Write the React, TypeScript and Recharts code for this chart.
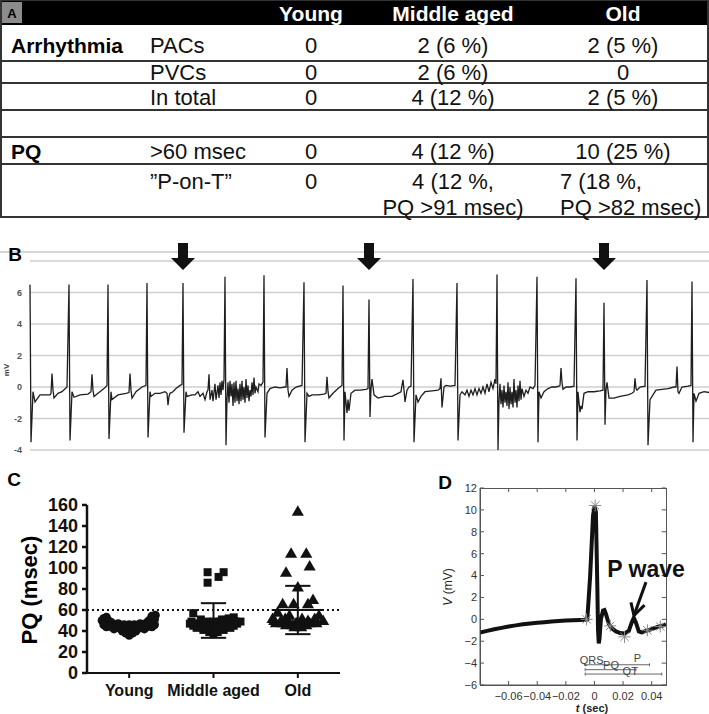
import React from "react";
import {
  LineChart,
  Line,
  ScatterChart,
  Scatter,
  ComposedChart,
  XAxis,
  YAxis,
  ZAxis,
  CartesianGrid,
  ReferenceLine,
  ReferenceDot,
} from "recharts";

const FONT = "'Liberation Sans', Arial, Helvetica, sans-serif";

// ---------- A: table ----------
const groupNames = ["Young", "Middle aged", "Old"];
const arrhythmiaLabels = ["PACs", "PVCs", "In total"];
const arrhythmiaYoung = ["0", "0", "0"];
const arrhythmiaMiddle = ["2 (6 %)", "2 (6 %)", "4 (12 %)"];
const arrhythmiaOld = ["2 (5 %)", "0", "2 (5 %)"];
const pqLabels = [">60 msec", "\u201DP-on-T\u201D"];
const pqYoung = ["0", "0"];
const pqMiddle = [["4 (12 %)"], ["4 (12 %,", "PQ >91 msec)"]];
const pqOld = [["10 (25 %)"], ["7 (18 %,", "PQ >82 msec)"]];

// ---------- B: ECG strip (x in samples) ----------
const ecgBeatSample = [0, 39, 78, 117, 153, 195, 234, 274, 313, 339, 383, 427, 467, 507, 546, 574, 617, 662];
const ecgRPeak = [6.5, 6.5, 6.5, 6.6, 6.6, 7.0, 7.1, 6.65, 6.45, 5.55, 6.85, 6.6, 7.15, 7.0, 6.9, 5.35, 6.8, 6.7];
const ecgSTrough = [-3.5, -3.4, -3.3, -3.2, -2.9, -3.7, -3.2, -3.5, -3.4, -1.9, -3.5, -3.4, -4.0, -3.5, -3.4, -2.4, -3.7, -3.5];
// trace between one beat and the next: [sample, mV]
const ecgBetween: number[][][] = [
  [[3, -0.3], [5, -0.95], [10, -0.5], [20, -0.5], [21, -0.4], [22, 0.85], [23, -0.2], [24, -0.7], [28, -0.4], [32, -0.3], [37, 0.0]],
  [[42, -0.3], [44, -0.65], [50, -0.5], [58, -0.45], [61, -0.3], [62, 0.8], [63, -0.2], [64, -0.6], [68, -0.4], [74, -0.1], [77, 0.1]],
  [[81, -0.3], [82, -0.8], [88, -0.5], [96, -0.4], [99, -0.35], [100, 0.85], [101, -0.2], [102, -0.7], [106, -0.3], [112, 0.0], [116, 0.1]],
  [[120, -0.3], [121, -0.6], [125, -0.4], [130, -0.4], [135, -0.3], [137, -0.4], [138, -1.15], [139, -0.6], [140, -0.4], [143, -0.3], [146, -0.1], [150, 0.1], [152, 0.15]],
  [[156, -0.3], [157, -0.6], [162, -0.5], [165, -0.5], [168, -0.3], [170, -0.6], [173, -0.4], [175, -0.8], [177, -0.3], [178, -0.2], [179, 0.8], [180, -0.8], [182, -0.2], [183, -0.9], [185, 0.2], [186, -0.8], [188, 0.1], [189, -0.7], [190, 0.3], [191, -0.5], [192, 0.4], [193, -0.2], [194, 0.5]],
  [[197, -0.8], [198, 0.3], [199, -1.0], [200, 0.4], [201, -0.6], [202, 0.2], [203, -1.2], [204, 0.3], [205, -1.0], [206, 0.4], [207, -0.9], [208, -0.1], [209, -1.1], [210, 0.2], [211, -0.9], [212, 0.4], [213, -0.8], [214, 0.0], [215, -1.0], [216, 0.5], [217, -0.7], [218, 0.1], [219, -0.9], [220, -0.2], [221, -0.6], [222, 0.3], [223, -0.5], [224, 0.6], [225, -0.4], [226, 0.0], [228, -0.3], [229, 0.2], [231, 0.1], [233, 0.3]],
  [[237, -0.4], [240, -0.1], [245, 0.0], [250, -0.05], [255, 0.0], [256, 0.0], [257, 1.2], [258, -0.2], [259, -0.6], [262, -0.2], [266, 0.0], [272, 0.1]],
  [[277, -0.4], [279, -0.6], [282, -0.5], [288, -0.5], [294, -0.45], [296, -0.4], [297, 0.65], [298, -0.3], [299, -0.7], [303, -0.4], [308, -0.1], [312, 0.1]],
  [[315, -0.3], [317, -1.65], [318, -0.8], [319, -1.5], [321, -0.4], [325, -0.2], [330, -0.2], [336, -0.15], [338, -0.1]],
  [[341, -0.1], [342, 0.5], [344, -0.5], [348, -0.7], [355, -0.6], [362, -0.6], [368, -0.4], [371, -0.3], [372, 0.1], [373, 0.45], [374, -0.2], [375, -0.95], [377, -0.2], [379, 0.0], [381, 0.05]],
  [[386, -0.5], [388, -0.95], [391, -0.6], [395, -0.3], [402, -0.25], [408, -0.2], [410, -0.1], [411, 0.55], [412, -1.3], [414, 0.0], [416, 0.1], [420, 0.05], [425, 0.1]],
  [[430, -0.5], [432, -0.3], [435, -0.5], [437, -0.2], [439, -0.6], [441, -0.2], [443, -0.5], [445, -0.1], [447, -0.5], [449, -0.1], [451, -0.4], [453, 0.0], [455, -0.4], [457, 0.2], [459, -0.3], [461, 0.3], [463, -0.1], [465, 0.5], [466, 0.2]],
  [[469, -0.9], [470, 0.2], [471, -1.1], [472, -0.2], [473, -1.3], [474, 0.1], [475, -1.0], [476, -0.3], [477, -1.2], [478, 0.3], [479, -1.4], [480, 0.0], [481, -1.1], [482, -0.3], [483, -1.3], [484, 0.5], [485, -1.0], [486, -0.2], [487, -1.3], [488, 0.1], [489, -0.9], [490, 0.4], [491, -0.8], [492, -0.1], [494, -0.6], [496, -0.2], [498, -0.4], [500, 0.0], [503, -0.1], [505, 0.1]],
  [[509, -0.3], [511, -0.7], [514, -0.3], [518, -0.1], [522, 0.0], [526, 0.0], [529, 0.05], [530, 0.1], [531, 1.2], [532, 0.3], [533, -0.15], [536, 0.0], [540, 0.0], [544, 0.05]],
  [[548, -0.3], [550, -1.6], [551, -1.2], [552, -1.4], [554, -0.4], [558, -0.3], [564, -0.3], [570, -0.25], [573, -0.2]],
  [[576, -0.2], [577, 0.3], [579, -0.7], [584, -0.7], [590, -0.6], [598, -0.5], [602, -0.4], [604, -0.3], [605, 0.55], [606, -0.1], [607, -0.2], [610, 0.0], [615, 0.05]],
  [[620, -0.8], [623, -0.5], [626, -0.2], [632, -0.15], [638, -0.1], [644, 0.0], [646, 0.0], [647, 1.3], [648, -0.3], [649, -0.4], [652, 0.0], [658, 0.05], [661, 0.1]],
  [[664, -0.4], [666, -0.9], [669, -0.4], [674, -0.3], [679, -0.35]],
];
const markedBeats = [4, 9, 15];
const ecgTicks = [-4, -2, 0, 2, 4, 6, 8];

// ---------- C: PQ scatter, [offset from group centre, PQ msec] ----------
const youngPQ = [
  [-0.3, 52], [-0.27, 53], [0.27, 54], [0.31, 55],
  [-0.32, 50], [-0.25, 50], [0.24, 50], [0.3, 51],
  [-0.29, 48], [-0.21, 48], [-0.13, 47], [0.13, 47], [0.21, 48], [0.29, 48],
  [-0.3, 46], [-0.24, 46], [-0.18, 46], [-0.12, 46], [-0.06, 46], [0, 46], [0.06, 46], [0.12, 46], [0.18, 46], [0.24, 46], [0.3, 46],
  [-0.27, 44], [-0.21, 44], [-0.15, 44], [-0.09, 44], [-0.03, 44], [0.03, 44], [0.09, 44], [0.15, 44], [0.21, 44], [0.27, 44],
  [-0.18, 42], [-0.1, 42], [-0.03, 42], [0.03, 42], [0.1, 42], [0.18, 42],
  [-0.08, 40], [0, 40], [0.08, 40],
  [-0.04, 38], [0.04, 38],
  [0, 36],
];
const middlePQ = [
  [-0.07, 96], [0.12, 96], [0.06, 91.5], [-0.07, 86],
  [-0.24, 57], [0.24, 53],
  [-0.15, 51], [0.1, 51], [0.18, 52],
  [-0.26, 49], [-0.08, 49], [0, 49], [0.08, 49], [0.26, 49], [0.32, 49],
  [-0.28, 47], [-0.2, 47], [-0.12, 47], [-0.04, 47], [0.04, 47], [0.12, 47], [0.2, 47], [0.28, 47],
  [-0.24, 45], [-0.16, 45], [-0.08, 45], [0, 45], [0.08, 45], [0.16, 45], [0.24, 45],
  [-0.2, 43], [-0.12, 43], [-0.04, 43], [0.04, 43], [0.12, 43], [0.2, 43],
  [-0.12, 41], [-0.04, 41], [0.04, 41], [0.12, 41],
  [-0.05, 39], [0.05, 39],
  [0, 37],
];
const oldPQ = [
  [0, 153], [-0.08, 113], [0.1, 113], [0.14, 101], [-0.14, 95], [0, 81],
  [0.18, 69], [-0.18, 65], [-0.05, 65], [0.12, 65],
  [-0.24, 57], [-0.1, 54], [0.25, 54],
  [-0.3, 51], [-0.15, 51], [0.05, 51], [0.2, 51],
  [-0.28, 49], [-0.2, 49], [-0.12, 49], [0.12, 49], [0.22, 49], [0.3, 49],
  [-0.26, 47], [-0.18, 47], [-0.1, 47], [-0.02, 47], [0.06, 47], [0.14, 47], [0.22, 47],
  [-0.14, 45], [-0.06, 45], [0.02, 45], [0.1, 45],
  [-0.04, 43], [0.04, 43],
];
const groupMean = [44, 50, 60];
const groupSD = [4, 16.5, 23];
const pqThreshold = 60;
const pqTicks = [0, 20, 40, 60, 80, 100, 120, 140, 160];

// ---------- D: averaged beat ----------
const beatTrace = [
  [-0.08, -1.2], [-0.075, -1.05], [-0.07, -0.9], [-0.065, -0.78], [-0.06, -0.65], [-0.055, -0.55],
  [-0.05, -0.45], [-0.045, -0.38], [-0.04, -0.32], [-0.035, -0.26], [-0.03, -0.2], [-0.025, -0.15],
  [-0.02, -0.11], [-0.015, -0.08], [-0.01, -0.05], [-0.006, -0.03], [-0.005, 0.0], [-0.003, 4.0],
  [-0.001, 9.5], [0.0, 10.3], [0.001, 9.8], [0.002, 3.0], [0.0025, -1.0], [0.003, -2.2], [0.0035, -1.8],
  [0.0045, 0.0], [0.006, 0.8], [0.007, 0.85], [0.008, 0.5], [0.01, -0.4], [0.012, -0.8], [0.015, -1.1],
  [0.018, -1.25], [0.021, -1.3], [0.024, -1.05], [0.026, -0.3], [0.0275, 0.15], [0.029, -0.3],
  [0.031, -1.1], [0.033, -1.2], [0.036, -1.05], [0.04, -0.9], [0.044, -0.7], [0.05, -0.5],
];
const beatMarkers = [[-0.0055, 0], [0.0005, 10.4], [0.011, -0.6], [0.021, -1.6], [0.037, -1.0], [0.046, -0.65]];
const intervalBarLevel = [-4.15, -4.6, -5.0];
const intervalBarStart = [-0.0065, -0.0065, -0.0065];
const intervalBarEnd = [0.0385, 0.029, 0.047];
const intervalNames = ["QRS", "PQ", "P", "QT"];
const intervalNameT = [-0.002, 0.0116, 0.03, 0.025];
const intervalNameV = [-3.7, -4.15, -3.55, -4.75];
const beatXTicks = [-0.06, -0.04, -0.02, 0, 0.02, 0.04];
const beatYTicks = [-6, -4, -2, 0, 2, 4, 6, 8, 10, 12];
const beatXDomain = [-0.08, 0.05];
const beatYDomain = [-6, 12];

const minusFmt = (v: number) => (v === 0 ? "0" : (v < 0 ? "\u2212" : "") + String(Math.abs(v)));

// ---------- Overlay (table, panel letters, axis titles) ----------
function Overlay() {
  const colX = [311, 453, 623];
  const rowY = [45, 72, 97];
  const lines = [61, 83, 110, 137, 164];
  const t = { fontFamily: FONT, dominantBaseline: "central" as const };
  return (
    <svg width={709} height={714} style={{ position: "absolute", left: 0, top: 0 }}>
      <rect x={0} y={0} width={709} height={25} fill="#000" />
      <rect x={2} y={2} width={20} height={21} fill="#8c8c8c" />
      <text x={12} y={13} {...t} textAnchor="middle" fontSize={13} fontWeight="bold" fill="#000">A</text>
      {groupNames.map((g, i) => (
        <text key={g} x={colX[i]} y={13} {...t} textAnchor="middle" fontSize={21} fontWeight="bold" fill="#fff">{g}</text>
      ))}
      <rect x={1} y={0} width={707} height={217} fill="none" stroke="#333" strokeWidth={2} />
      {lines.map((y) => (
        <line key={y} x1={0} x2={709} y1={y} y2={y} stroke="#333" strokeWidth={2} />
      ))}
      <text x={11} y={45} {...t} fontSize={21} fontWeight="bold">Arrhythmia</text>
      {arrhythmiaLabels.map((lab, i) => (
        <g key={lab} fontSize={22} fill="#111">
          <text x={150} y={rowY[i]} {...t}>{lab}</text>
          <text x={colX[0]} y={rowY[i]} {...t} textAnchor="middle">{arrhythmiaYoung[i]}</text>
          <text x={colX[1]} y={rowY[i]} {...t} textAnchor="middle">{arrhythmiaMiddle[i]}</text>
          <text x={colX[2]} y={rowY[i]} {...t} textAnchor="middle">{arrhythmiaOld[i]}</text>
        </g>
      ))}
      <text x={11} y={151} {...t} fontSize={21} fontWeight="bold">PQ</text>
      {pqLabels.map((lab, i) => {
        const y = i === 0 ? 151 : 181;
        return (
          <g key={lab} fontSize={22} fill="#111">
            <text x={150} y={y} {...t}>{lab}</text>
            <text x={colX[0]} y={y} {...t} textAnchor="middle">{pqYoung[i]}</text>
            {pqMiddle[i].map((s, k) => (
              <text key={s} x={colX[1]} y={y + k * 26} {...t} textAnchor="middle">{s}</text>
            ))}
            {pqOld[i].map((s, k) =>
              pqOld[i].length > 1 ? (
                <text key={s} x={560} y={y + k * 26} {...t}>{s}</text>
              ) : (
                <text key={s} x={colX[2]} y={y} {...t} textAnchor="middle">{s}</text>
              )
            )}
          </g>
        );
      })}

      {/* B */}
      <line x1={0} x2={709} y1={252} y2={252} stroke="#c8c8c8" strokeWidth={1.5} />
      <text x={15} y={254} {...t} textAnchor="middle" fontSize={19} fontWeight="bold">B</text>
      <text x={6} y={370} {...t} textAnchor="middle" fontSize={8} fontWeight="bold" fill="#444" transform="rotate(-90 6 370)">mV</text>

      {/* C */}
      <text x={14} y={479} {...t} textAnchor="middle" fontSize={19} fontWeight="bold">C</text>
      <text x={29} y={590} {...t} textAnchor="middle" fontSize={22} fontWeight="bold" transform="rotate(-90 29 590)">PQ (msec)</text>

      {/* D */}
      <text x={445} y={482} {...t} textAnchor="middle" fontSize={19} fontWeight="bold">D</text>
      <text x={448} y={587} {...t} textAnchor="middle" fontSize={12} fill="#222" transform="rotate(-90 448 587)">
        <tspan fontStyle="italic">V</tspan> (mV)
      </text>
      <text x={592} y={708} {...t} textAnchor="middle" fontSize={11} fontWeight="bold" fill="#222">
        <tspan fontStyle="italic">t</tspan> (sec)
      </text>
      {/* D plot frame */}
      <rect x={480.5} y={488.5} width={186} height={197} fill="none" stroke="#555" strokeWidth={1} />
    </svg>
  );
}

// ---------- B ----------
const ecgData: { s: number; mv: number }[] = [];
ecgBeatSample.forEach((s, i) => {
  ecgData.push({ s, mv: ecgRPeak[i] });
  ecgData.push({ s: s + 1, mv: ecgSTrough[i] });
  ecgBetween[i].forEach(([ts, v]) => ecgData.push({ s: ts, mv: v }));
});

const DownArrow = (p: any) => {
  const { cx, cy } = p;
  const pts = [
    [cx, cy], [cx - 12, cy - 12], [cx - 5, cy - 12], [cx - 5, cy - 27],
    [cx + 5, cy - 27], [cx + 5, cy - 12], [cx + 12, cy - 12],
  ].map((q) => q.join(",")).join(" ");
  return <polygon points={pts} fill="#111" />;
};

function EcgStrip() {
  return (
    <LineChart width={709} height={215} data={ecgData} margin={{ top: 21, right: 0, bottom: 5, left: 0 }}>
      <CartesianGrid horizontal vertical={false} stroke="#cfcfcf" strokeWidth={1.5} />
      <XAxis type="number" dataKey="s" domain={[0, 679]} hide />
      <YAxis
        domain={[-4, 8]}
        ticks={ecgTicks}
        interval={0}
        width={30}
        axisLine={false}
        tickLine={false}
        tickSize={0}
        tickMargin={8}
        tickFormatter={(v: number) => (v === 8 ? "" : String(v))}
        tick={{ fontSize: 9, fill: "#555", fontFamily: FONT, fontWeight: "bold" }}
      />
      <Line type="linear" dataKey="mv" stroke="#1e1e1e" strokeWidth={1.3} dot={false} isAnimationActive={false} />
      {markedBeats.map((b) => (
        <ReferenceDot key={b} x={ecgBeatSample[b]} y={7.43} ifOverflow="visible" shape={DownArrow} />
      ))}
    </LineChart>
  );
}

// ---------- C ----------
const toPoints = (rows: number[][], g: number) => rows.map(([dx, v]) => ({ x: g + 1 + dx, y: v }));

function PqScatter() {
  const axisTick = { fontSize: 18, fontWeight: "bold", fill: "#111", fontFamily: FONT };
  return (
    <ScatterChart width={360} height={254} margin={{ top: 45, right: 20, bottom: 0, left: 0 }}>
      <XAxis
        type="number"
        dataKey="x"
        domain={[0.5, 3.5]}
        ticks={[1, 2, 3]}
        interval={0}
        tickFormatter={(v: number) => groupNames[v - 1]}
        height={41}
        stroke="#111"
        strokeWidth={2}
        tickSize={5}
        tickMargin={7}
        tick={{ ...axisTick, fontSize: 16 }}
      />
      <YAxis
        type="number"
        dataKey="y"
        domain={[0, 160]}
        ticks={pqTicks}
        interval={0}
        width={87}
        stroke="#111"
        strokeWidth={2.5}
        tickSize={5}
        tickMargin={4}
        tick={axisTick}
      />
      <ZAxis range={[70, 70]} />
      <ReferenceLine y={pqThreshold} stroke="#111" strokeWidth={2} strokeDasharray="2 3" />
      <Scatter data={toPoints(youngPQ, 0)} fill="#111" shape="circle" isAnimationActive={false} />
      <Scatter data={toPoints(middlePQ, 1)} fill="#111" shape="square" isAnimationActive={false} />
      <Scatter data={toPoints(oldPQ, 2)} fill="#111" shape="triangle" isAnimationActive={false} />
      {groupMean.map((m, i) => {
        const c = i + 1;
        const lo = m - groupSD[i];
        const hi = m + groupSD[i];
        return (
          <React.Fragment key={i}>
            <ReferenceLine segment={[{ x: c - 0.31, y: m }, { x: c + 0.31, y: m }]} stroke="#111" strokeWidth={2} />
            <ReferenceLine segment={[{ x: c, y: lo }, { x: c, y: hi }]} stroke="#111" strokeWidth={2} />
            <ReferenceLine segment={[{ x: c - 0.15, y: lo }, { x: c + 0.15, y: lo }]} stroke="#111" strokeWidth={2} />
            <ReferenceLine segment={[{ x: c - 0.15, y: hi }, { x: c + 0.15, y: hi }]} stroke="#111" strokeWidth={2} />
          </React.Fragment>
        );
      })}
    </ScatterChart>
  );
}

// ---------- D ----------
const beatData = beatTrace.map(([t, v]) => ({ t, v }));
const markerData = beatMarkers.map(([t, v]) => ({ t, v }));

const Asterisk = (p: any) => {
  const { cx, cy } = p;
  const r = 6;
  const d = r * 0.7;
  return (
    <g stroke="#8a8a8a" strokeWidth={1}>
      <line x1={cx - r} y1={cy} x2={cx + r} y2={cy} />
      <line x1={cx} y1={cy - r} x2={cx} y2={cy + r} />
      <line x1={cx - d} y1={cy - d} x2={cx + d} y2={cy + d} />
      <line x1={cx - d} y1={cy + d} x2={cx + d} y2={cy - d} />
    </g>
  );
};

const textShape = (label: string, size: number, bold: boolean, fill: string) => (p: any) => (
  <text x={p.cx} y={p.cy} textAnchor="middle" dominantBaseline="central" fontSize={size}
    fontWeight={bold ? "bold" : "normal"} fill={fill} fontFamily={FONT}>
    {label}
  </text>
);

const endTick = (p: any) => <line x1={p.cx} x2={p.cx} y1={p.cy - 1.5} y2={p.cy + 1.5} stroke="#666" strokeWidth={1} />;

function BeatTrace() {
  const tick = { fontSize: 11, fill: "#333", fontFamily: FONT };
  const [, x1] = beatXDomain;
  const [, y1] = beatYDomain;
  return (
    <ComposedChart width={329} height={254} data={beatData} margin={{ top: 28, right: 43, bottom: 0, left: 0 }}>
      <XAxis
        type="number"
        dataKey="t"
        domain={beatXDomain}
        ticks={beatXTicks}
        interval={0}
        allowDataOverflow
        height={29}
        stroke="#555"
        tickSize={-4}
        tickMargin={11}
        tickFormatter={minusFmt}
        tick={tick}
      />
      <YAxis
        type="number"
        domain={beatYDomain}
        ticks={beatYTicks}
        interval={0}
        allowDataOverflow
        width={100}
        stroke="#555"
        tickSize={-4}
        tickMargin={7}
        tickFormatter={minusFmt}
        tick={tick}
      />
      {/* inner ticks on the top and right sides */}
      {beatXTicks.map((v) => (
        <ReferenceLine key={`tx${v}`} segment={[{ x: v, y: y1 }, { x: v, y: y1 - 0.37 }]} stroke="#555" />
      ))}
      {beatYTicks.map((v) => (
        <ReferenceLine key={`ty${v}`} segment={[{ x: x1, y: v }, { x: x1 - 0.003, y: v }]} stroke="#555" />
      ))}
      {intervalBarLevel.map((lv, i) => (
        <React.Fragment key={i}>
          <ReferenceLine segment={[{ x: intervalBarStart[i], y: lv }, { x: intervalBarEnd[i], y: lv }]} stroke="#666" strokeWidth={1} />
          <ReferenceDot x={intervalBarStart[i]} y={lv} shape={endTick} />
          <ReferenceDot x={intervalBarEnd[i]} y={lv} shape={endTick} />
        </React.Fragment>
      ))}
      {intervalNames.map((n, i) => (
        <ReferenceDot key={n} x={intervalNameT[i]} y={intervalNameV[i]} shape={textShape(n, 11, false, "#444")} />
      ))}
      <Line type="linear" dataKey="v" stroke="#111" strokeWidth={4} dot={false} isAnimationActive={false} />
      <Scatter data={markerData} dataKey="v" shape={Asterisk} isAnimationActive={false} />
      <ReferenceLine segment={[{ x: 0.036, y: 3.4 }, { x: 0.0276, y: 0.35 }]} stroke="#111" strokeWidth={3} />
      <ReferenceLine segment={[{ x: 0.0276, y: 0.35 }, { x: 0.0255, y: 1.55 }]} stroke="#111" strokeWidth={3} />
      <ReferenceLine segment={[{ x: 0.0276, y: 0.35 }, { x: 0.035, y: 1.3 }]} stroke="#111" strokeWidth={3} />
      <ReferenceDot x={0.036} y={4.6} ifOverflow="visible" shape={textShape("P wave", 23, true, "#111")} />
    </ComposedChart>
  );
}

export default function App() {
  return (
    <div style={{ position: "absolute", left: 0, top: 0, width: 709, height: 714, background: "#fff", overflow: "hidden", fontFamily: FONT }}>
      <Overlay />
      <div style={{ position: "absolute", left: 0, top: 240 }}>
        <EcgStrip />
      </div>
      <div style={{ position: "absolute", left: 0, top: 460 }}>
        <PqScatter />
      </div>
      <div style={{ position: "absolute", left: 380, top: 460 }}>
        <BeatTrace />
      </div>
    </div>
  );
}
